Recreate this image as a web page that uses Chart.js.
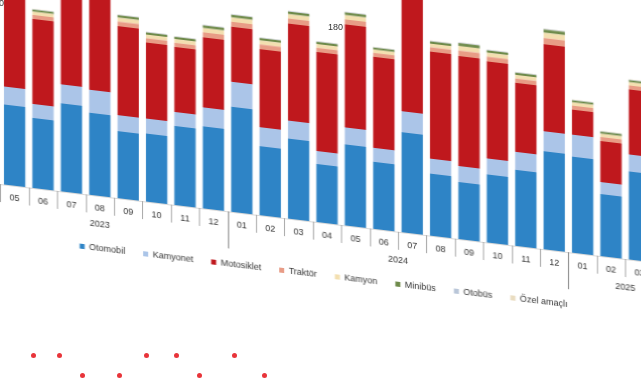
<!DOCTYPE html>
<html><head><meta charset="utf-8">
<script src="https://cdn.jsdelivr.net/npm/chart.js@4.4.1/dist/chart.umd.min.js"></script>
<style>
html,body{margin:0;padding:0;background:#fff;overflow:hidden;width:641px;height:380px;}
#wrap{position:absolute;left:0;top:0;width:641px;height:380px;transform:skewY(6.84deg);transform-origin:0 0;}
#box{position:absolute;left:-34.6px;top:-56px;width:717px;height:307px;}
.dot{position:absolute;width:5px;height:5px;border-radius:50%;background:#e8343a;}
.txt{position:absolute;font:9px "Liberation Sans",Arial,sans-serif;color:#333;}
</style></head><body>
<div id="wrap"><div id="box"><canvas id="c"></canvas></div></div>
<div class="txt" style="left:328px;top:22px">180</div>
<div class="txt" style="left:-1px;top:-2px">0</div>
<div class="dot" style="left:31px;top:353px"></div>
<div class="dot" style="left:57px;top:353px"></div>
<div class="dot" style="left:144px;top:353px"></div>
<div class="dot" style="left:174px;top:353px"></div>
<div class="dot" style="left:232px;top:353px"></div>
<div class="dot" style="left:80px;top:373px"></div>
<div class="dot" style="left:117px;top:373px"></div>
<div class="dot" style="left:197px;top:373px"></div>
<div class="dot" style="left:262px;top:373px"></div>
<script>
// Category labels (months) and year groups
const months = ['04','05','06','07','08','09','10','11','12',
                '01','02','03','04','05','06','07','08','09','10','11','12',
                '01','02','03','04'];
const yearLabels = ['2023','2024','2025'];
const yearSizes = [9, 12, 4];

// Series values (thousand vehicles, estimated)
const otomobil   = [90,96,84,105.6,98.4,80.4,81.6,94.8,98.4,126,82.8,96,69.6,97.2,80.4,120,74.4,68.4,81.6,91.2,117.6,115.2,74.4,105.6,102];
const kamyonet   = [18,21.6,16.8,22.8,27.6,19.2,18,16.8,22.8,30,22.8,21.6,15.6,20.4,16.8,25.2,18,19.2,19.2,21.6,24,26.4,14.4,20.4,21.6];
const motosiklet = [74.4,108,102,126,114,106.8,91.2,78,84,66,93.6,116.4,118.8,123.6,109.2,150,128.4,132,116.4,82.8,104.4,30,49.2,78,114];
const traktor    = [5.2,5.6,4.8,5.6,5.8,5.5,5.2,5.0,6.1,6.0,5.7,6.2,5.1,6.0,4.7,6.1,5.3,6.6,5.7,5.2,7.5,4.8,4.9,4.8,5.6];
const kamyon     = [4.3,4.7,4.0,4.6,4.7,4.7,4.3,4.4,5.1,5.2,4.7,5.1,4.4,5.2,4.0,5.2,4.3,5.5,4.7,4.3,6.4,4.0,3.9,4.0,4.7];
const minibus    = [2.6,2.9,2.4,2.9,2.8,2.9,2.6,2.7,3.1,3.1,2.9,3.1,2.7,3.1,2.4,3.1,2.7,3.4,2.9,2.7,3.8,2.4,2.5,2.4,2.9];
const otobus     = [0.6,0.6,0.5,0.7,0.6,0.6,0.6,0.5,0.7,0.7,0.6,0.7,0.6,0.7,0.5,0.7,0.6,0.7,0.6,0.6,0.8,0.5,0.5,0.5,0.6];
const ozelAmacli = [0.5,0.6,0.5,0.6,0.5,0.6,0.5,0.6,0.6,0.6,0.5,0.6,0.5,0.6,0.5,0.6,0.5,0.7,0.6,0.5,0.7,0.5,0.5,0.5,0.6];

const seriesNames  = ['Otomobil','Kamyonet','Motosiklet','Traktör','Kamyon','Minibüs','Otobüs','Özel amaçlı'];
const seriesData   = [otomobil,kamyonet,motosiklet,traktor,kamyon,minibus,otobus,ozelAmacli];
const seriesColors = ['#2e84c6','#abc5e8','#bf181d','#e89c86','#f3dfb0','#6e8a4a','#b9c6d8','#e9dcc0'];

const FONT = '"Liberation Sans", Arial, sans-serif';

const axisDecor = {
  id: 'axisDecor',
  afterDraw(chart) {
    const {ctx, scales: {x}, chartArea} = chart;
    const base = chartArea.bottom;
    const n = months.length;
    const step = x.getPixelForValue(1) - x.getPixelForValue(0);
    const bound = i => x.getPixelForValue(0) - step / 2 + i * step;
    ctx.save();
    ctx.lineWidth = 1;
    ctx.strokeStyle = '#d9d9d9';
    ctx.beginPath();
    ctx.moveTo(chartArea.left, Math.round(base) + 0.5);
    ctx.lineTo(chartArea.right, Math.round(base) + 0.5);
    ctx.stroke();
    const starts = new Set();
    let acc = 0;
    yearSizes.forEach(s => { starts.add(acc); acc += s; });
    starts.add(acc);
    for (let i = 0; i <= n; i++) {
      const px = Math.round(bound(i)) + 0.5;
      const long = starts.has(i);
      ctx.strokeStyle = long ? '#7f7f7f' : '#a6a6a6';
      ctx.beginPath();
      ctx.moveTo(px, base);
      ctx.lineTo(px, base + (long ? 37 : 18));
      ctx.stroke();
    }
    ctx.fillStyle = '#333';
    ctx.font = '9px ' + FONT;
    ctx.textAlign = 'center';
    ctx.textBaseline = 'middle';
    let s0 = 0;
    yearLabels.forEach((lab, k) => {
      const a = bound(s0), b = bound(s0 + yearSizes[k]);
      ctx.fillText(lab, (a + b) / 2, base + 29);
      s0 += yearSizes[k];
    });
    ctx.restore();
  }
};

new Chart(document.getElementById('c'), {
  type: 'bar',
  data: {
    labels: months,
    datasets: seriesNames.map((name, i) => ({
      label: name,
      data: seriesData[i],
      backgroundColor: seriesColors[i],
      borderWidth: 0,
      barPercentage: 0.75,
      categoryPercentage: 1.0,
      stack: 's'
    }))
  },
  options: {
    responsive: true,
    maintainAspectRatio: false,
    animation: false,
    layout: {padding: 0},
    scales: {
      x: {
        stacked: true,
        offset: true,
        grid: {display: false, drawTicks: false},
        border: {display: false},
        ticks: {font: {size: 9, family: FONT}, color: '#333', padding: 7, maxRotation: 0, autoSkip: false},
        afterFit: s => { s.height = 30; }
      },
      y: {
        stacked: true,
        position: 'left',
        min: 0,
        max: 288,
        grid: {display: false},
        border: {display: false},
        ticks: {display: false},
        afterFit: s => { s.width = 7; }
      }
    },
    plugins: {
      legend: {
        position: 'bottom',
        labels: {boxWidth: 5, boxHeight: 5, padding: 18, color: '#333', font: {size: 9, family: FONT}}
      },
      tooltip: {enabled: false}
    }
  },
  plugins: [axisDecor]
});
</script>
</body></html>
